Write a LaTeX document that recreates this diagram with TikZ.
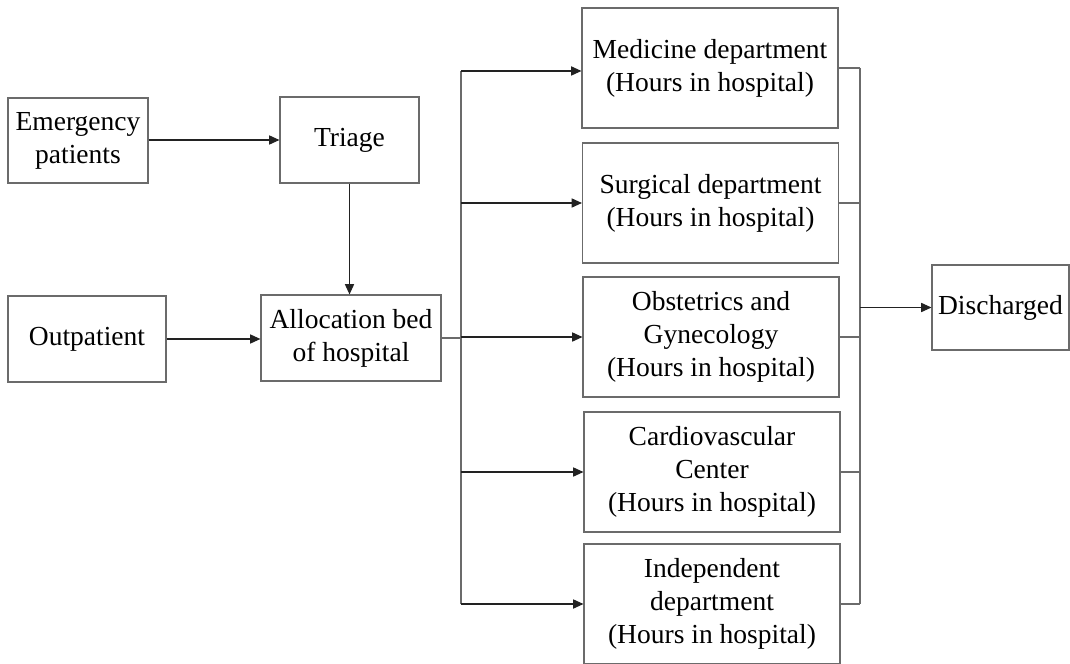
\documentclass[tikz,border=0pt]{standalone}
\usepackage{fontspec}
\setmainfont{Liberation Serif}
\usepackage{xcolor}
\usepackage{tikz}
\usetikzlibrary{
  arrows.meta,
  positioning,
  calc
}
\definecolor{hpLine}{HTML}{222222}
\definecolor{hpBox}{HTML}{6B6B6B}
\tikzset{
  hpnode/.style={
    draw=hpBox, line width=0.5pt, align=center, inner sep=0pt,
    font=\fontsize{12}{14.4}\selectfont
  },
  entry/.style={hpnode, minimum width=61pt, minimum height=37.1pt},
  dept/.style={hpnode, minimum width=111.6pt, minimum height=52.3pt},
  flow/.style={-{Triangle[length=4.5pt, width=4pt]}, line width=0.5pt, hpLine},
  busline/.style={line width=0.5pt, hpBox}
}
\begin{document}
\begin{tikzpicture}[x=0.436pt, y=-0.436pt]
  \clip (0,0) rectangle (1070,663);
  \fill[white] (0,0) rectangle (1070,663);
  % admission side
  \node[entry] (emerg) at (78,140.5) {Emergency\\patients};
  \node[entry, minimum width=60.6pt, minimum height=37.5pt] (triage) at (349.5,140) {Triage};
  \node[entry, minimum width=68.9pt, minimum height=37.5pt] (outp) at (87,339) {Outpatient};
  \node[entry, minimum width=78.5pt, minimum height=37.5pt] (alloc) at (351,338) {Allocation bed\\of hospital};
  % departments
  \node[dept] (med) at (710,68) {Medicine department\\(Hours in hospital)};
  \node[dept] (surg) at (710.5,203) {Surgical department\\(Hours in hospital)};
  \node[dept] (obst) at (711,337) {Obstetrics and\\Gynecology\\(Hours in hospital)};
  \node[dept] (cardio) at (712,472) {Cardiovascular\\Center\\(Hours in hospital)};
  \node[dept] (indep) at (712,604) {Independent\\department\\(Hours in hospital)};
  \node[entry, minimum width=59.7pt] (disch) at (1000.5,307.5) {Discharged};
  \coordinate (busL) at (461,0);
  \coordinate (busR) at (860,0);
  \draw[flow] (emerg.east |- triage.west) -- (triage.west);
  \draw[flow] (triage.south) -- (triage.south |- alloc.north);
  \draw[flow] (outp.east) -- (outp.east -| alloc.west);
  % left bus
  \draw[busline] (alloc.east) -- (alloc.east -| busL);
  \draw[busline] ([yshift=-1.3pt]med.west -| busL) -- (indep.west -| busL);
  \draw[flow] ([yshift=-1.3pt]med.west -| busL) -- ([yshift=-1.3pt]med.west);
  \foreach \d in {surg, obst, cardio, indep}
    \draw[flow] (\d.west -| busL) -- (\d.west);
  % right bus
  \foreach \d in {med, surg, obst, cardio, indep}
    \draw[busline] (\d.east) -- (\d.east -| busR);
  \draw[busline] (med.east -| busR) -- (indep.east -| busR);
  \draw[flow] (busR |- disch.west) -- (disch.west);
\end{tikzpicture}
\end{document}
